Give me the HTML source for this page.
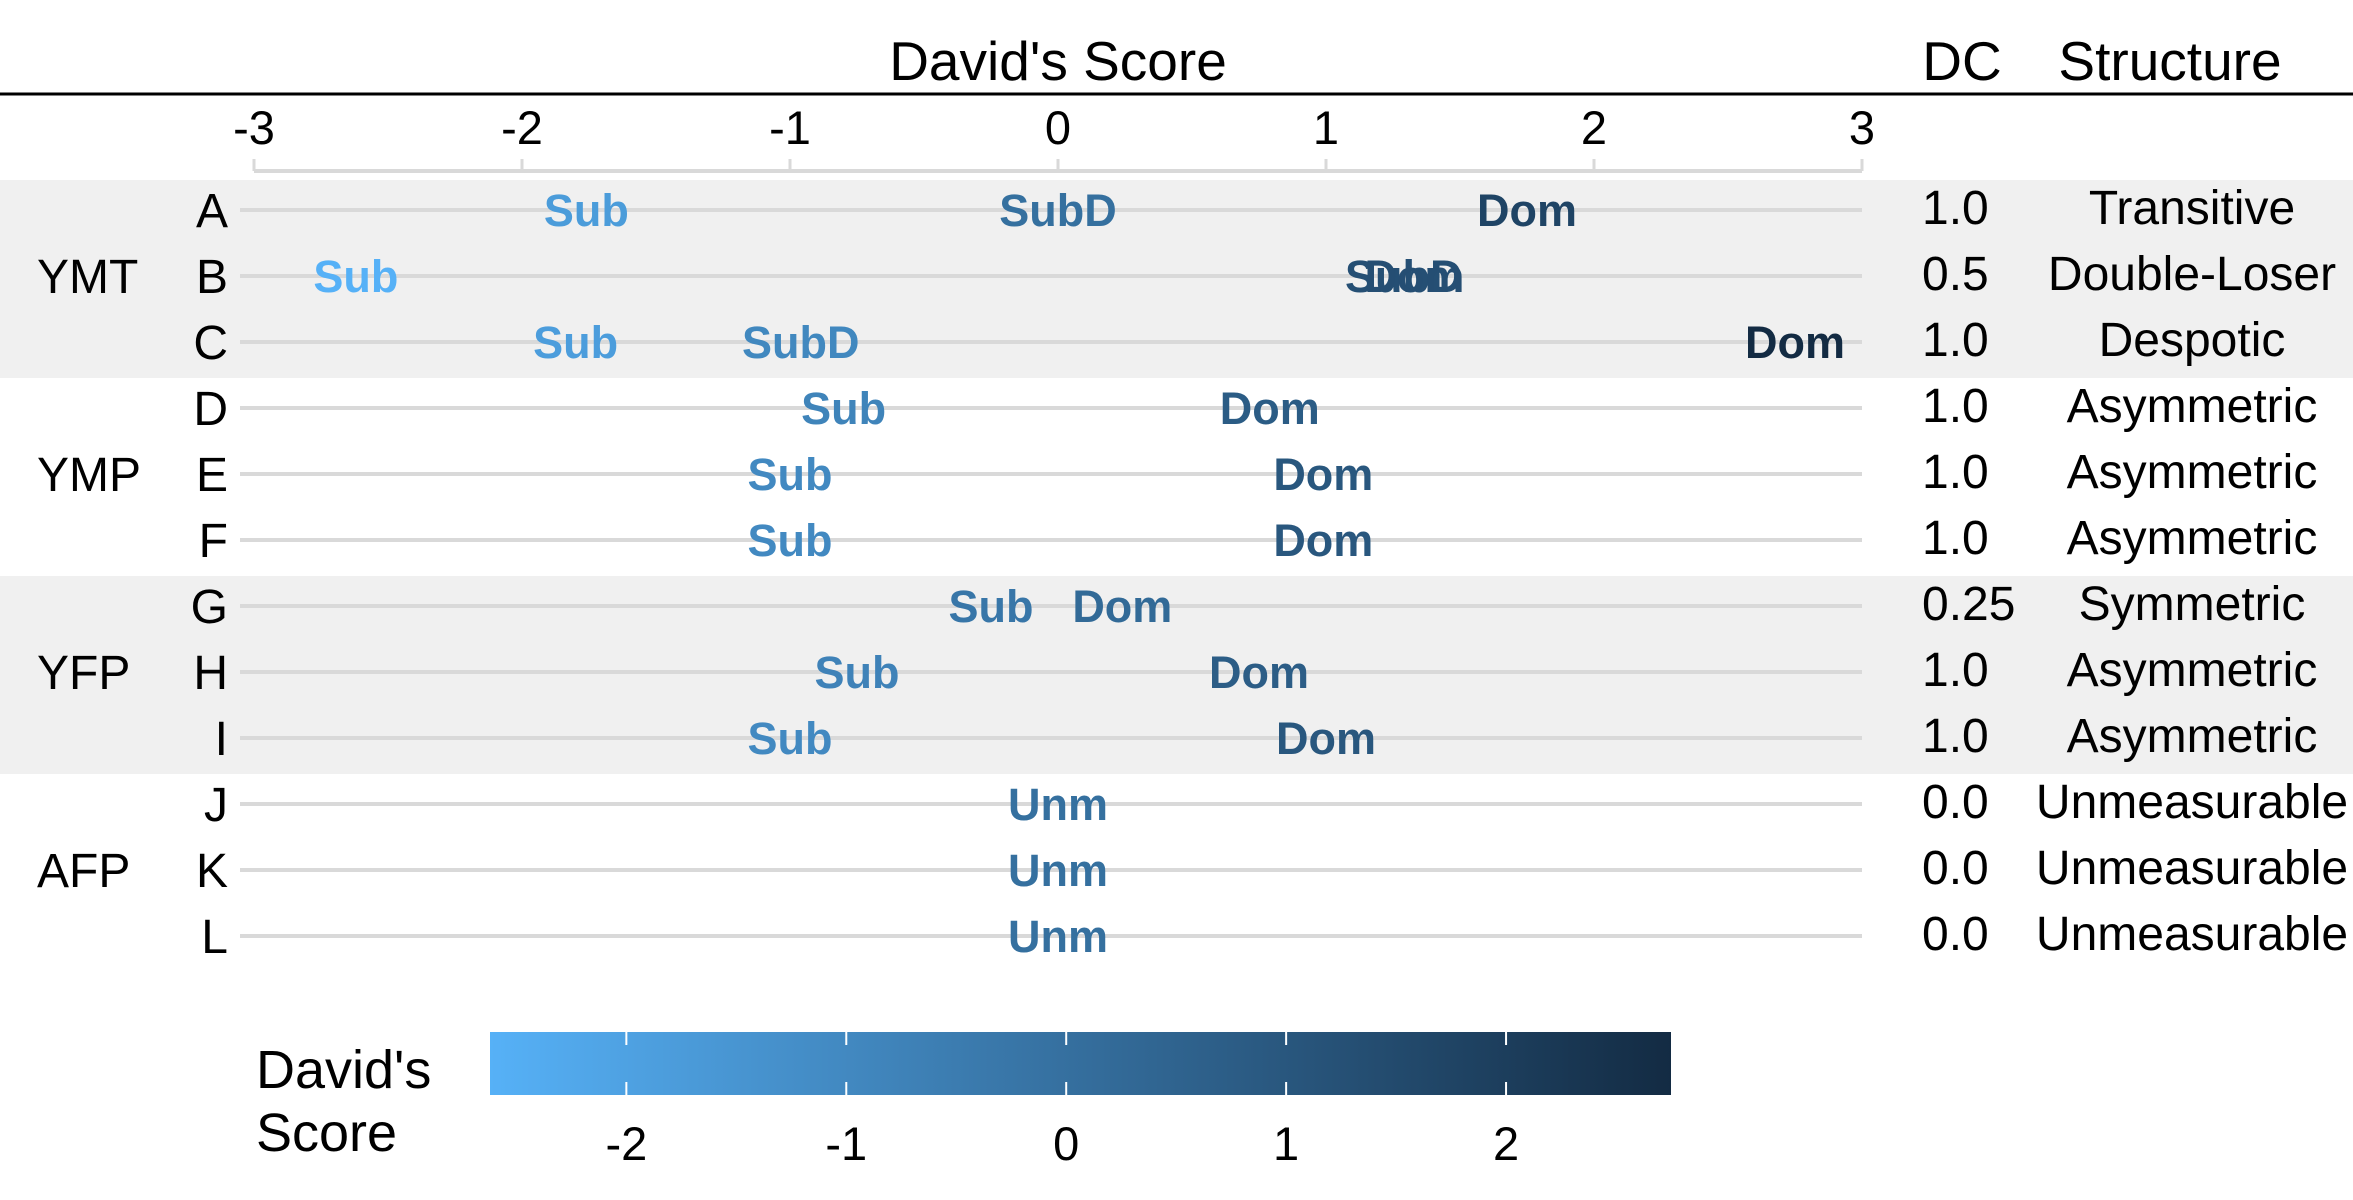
<!DOCTYPE html>
<html><head><meta charset="utf-8"><style>
body{margin:0;background:#fff}
svg{display:block;font-family:"Liberation Sans",Arial,sans-serif}
</style></head><body>
<svg id="chart" width="2353" height="1200" viewBox="0 0 2353 1200" xmlns="http://www.w3.org/2000/svg">
<defs><linearGradient id="grad" x1="0" x2="1" y1="0" y2="0"><stop offset="0" stop-color="#56B1F7"/><stop offset="1" stop-color="#132B43"/></linearGradient></defs>
<g id="bands"></g>
<line x1="0" x2="2353" y1="94" y2="94" stroke="#000" stroke-width="3"/>
<text x="1058" y="80" font-size="55" text-anchor="middle">David's Score</text>
<text x="1962" y="80" font-size="55" text-anchor="middle">DC</text>
<text x="2170" y="80" font-size="55" text-anchor="middle">Structure</text>
<g id="axis"></g>
<g id="rows"></g>
<g id="legend">
<text x="256" y="1088" font-size="54">David's</text>
<text x="256" y="1151" font-size="54">Score</text>
<rect x="490" y="1032" width="1181" height="63" fill="url(#grad)"/>
</g>
</svg>
<script>
const rowLabels=["A","B","C","D","E","F","G","H","I","J","K","L"];
const groups=["YMT","YMP","YFP","AFP"];
const subScores=[-1.76,-2.62,-1.80,-0.80,-1.0,-1.0,-0.25,-0.75,-1.0,null,null,null];
const subDScores=[0.0,1.29,-0.96,null,null,null,null,null,null,null,null,null];
const domScores=[1.75,1.33,2.75,0.79,0.99,0.99,0.24,0.75,1.0,null,null,null];
const unmScores=[null,null,null,null,null,null,null,null,null,0,0,0];
const dcValues=["1.0","0.5","1.0","1.0","1.0","1.0","0.25","1.0","1.0","0.0","0.0","0.0"];
const structures=["Transitive","Double-Loser","Despotic","Asymmetric","Asymmetric","Asymmetric","Symmetric","Asymmetric","Asymmetric","Unmeasurable","Unmeasurable","Unmeasurable"];
const xTicks=[-3,-2,-1,0,1,2,3];
const legendTicks=[-2,-1,0,1,2];

const NS="http://www.w3.org/2000/svg";
const x=v=>1058+268*v;
const y=i=>210+66*i;
const all=[...subScores,...subDScores,...domScores,...unmScores].filter(v=>v!==null);
const lo=Math.min(...all),hi=Math.max(...all);
const lx=v=>490+1181*(v-lo)/(hi-lo);
function col(v){const t=(v-lo)/(hi-lo);const a=[0x56,0xB1,0xF7],b=[0x13,0x2B,0x43];
 return "rgb("+a.map((c,k)=>Math.round(c+(b[k]-c)*t)).join(",")+")";}
function mk(tag,attrs,parent,text){const e=document.createElementNS(NS,tag);for(const k in attrs)e.setAttribute(k,attrs[k]);if(text!==undefined)e.textContent=text;parent.appendChild(e);return e;}
const bands=document.getElementById('bands'),axis=document.getElementById('axis'),rows=document.getElementById('rows'),legend=document.getElementById('legend');
groups.forEach((g,gi)=>{
 if(gi%2===0){const r=mk('rect',{x:0,y:y(gi*3)-30,width:2353,height:198,fill:'#f0f0f0'},bands);
  
  }
 const t=mk('text',{x:37,y:y(gi*3+1)+17,'font-size':48},rows,g);
 
 
});
const al=mk('line',{x1:x(-3),x2:x(3),y1:171,y2:171,stroke:'#d9d9d9','stroke-width':4},axis);


xTicks.forEach(v=>{
 const tk=mk('line',{x1:x(v),x2:x(v),y1:159,y2:171,stroke:'#d9d9d9','stroke-width':3},axis);
 
 
 const tl=mk('text',{x:x(v),y:144,'font-size':47,'text-anchor':'middle'},axis,v);
 
 
});
rowLabels.forEach((r,i)=>{
 const g=mk('line',{x1:240,x2:x(3),y1:y(i),y2:y(i),stroke:'#d9d9d9','stroke-width':4},rows);
 
 
 const l=mk('text',{x:228,y:y(i)+17,'font-size':48,'text-anchor':'end'},rows,r);
 
 
 const d=mk('text',{x:1922,y:y(i)+14,'font-size':48},rows,dcValues[i]);
 
 
 const s=mk('text',{x:2192,y:y(i)+14,'font-size':48,'text-anchor':'middle'},rows,structures[i]);
 
 
 [[subScores,'Sub'],[subDScores,'SubD'],[domScores,'Dom'],[unmScores,'Unm']].forEach(([arr,lab])=>{
  const v=arr[i];if(v===null)return;
  const m=mk('text',{x:x(v),y:y(i)+16,'font-size':45,'font-weight':'bold','text-anchor':'middle',fill:col(v)},rows,lab);
  
  
 });
});
legendTicks.forEach(v=>{
 const a=mk('line',{x1:lx(v),x2:lx(v),y1:1032,y2:1045,stroke:'#fff','stroke-width':2},legend);
 
 
 const b=mk('line',{x1:lx(v),x2:lx(v),y1:1082,y2:1095,stroke:'#fff','stroke-width':2},legend);
 
 
 const t=mk('text',{x:lx(v),y:1160,'font-size':47,'text-anchor':'middle'},legend,v);
 
 
});
</script>
</body></html>
